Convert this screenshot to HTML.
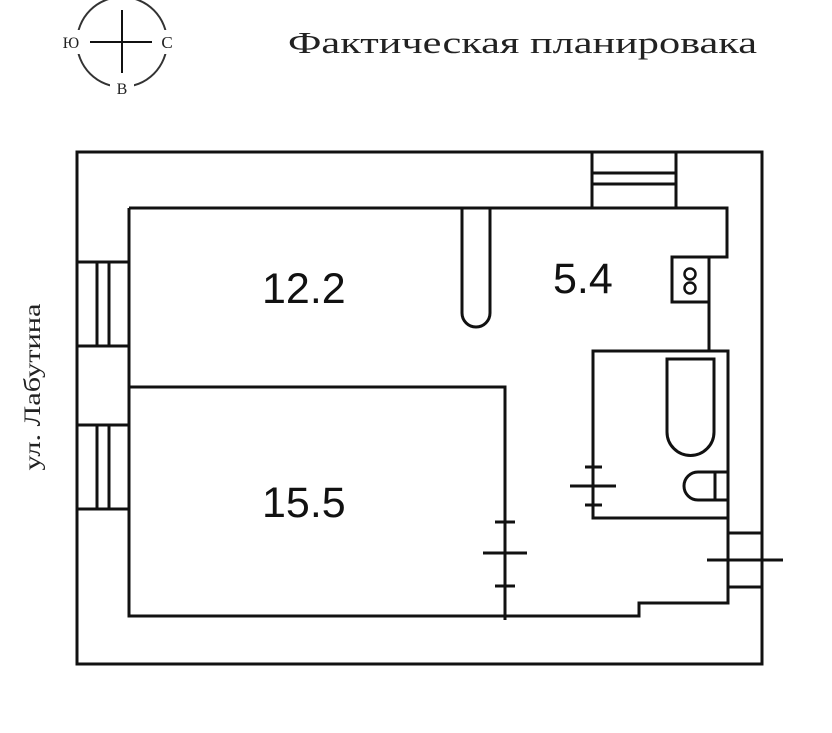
<!DOCTYPE html>
<html><head><meta charset="utf-8"><style>
html,body{margin:0;padding:0;background:#fff;}
svg{display:block;}
</style></head><body>
<svg width="832" height="733" viewBox="0 0 832 733" xmlns="http://www.w3.org/2000/svg">
<g fill="none" stroke="#111" stroke-width="3">
<circle cx="122" cy="42" r="45" stroke-width="2" stroke="#333"/>
<line x1="90" y1="42" x2="152" y2="42" stroke-width="2"/>
<line x1="122" y1="10" x2="122" y2="73" stroke-width="2"/>
</g>
<rect x="60" y="30" width="22" height="24" fill="#fff"/>
<rect x="156" y="30" width="22" height="24" fill="#fff"/>
<rect x="110" y="77" width="24" height="22" fill="#fff"/>
<g font-family="'Liberation Serif','DejaVu Serif',serif" fill="#222">
<text x="71" y="48" font-size="16" text-anchor="middle">Ю</text>
<text x="167" y="48" font-size="17" text-anchor="middle">С</text>
<text x="122" y="94" font-size="16" text-anchor="middle">В</text>
<text x="288" y="53" font-size="31" textLength="469" lengthAdjust="spacingAndGlyphs">Фактическая планировака</text>
<text transform="translate(40,387) rotate(-90)" font-size="23" text-anchor="middle" textLength="167" lengthAdjust="spacingAndGlyphs">ул. Лабутина</text>
</g>
<g fill="none" stroke="#111" stroke-width="3">
<rect x="77" y="152" width="685" height="512"/>
<polyline points="129,208 727,208 727,257 672,257"/>
<rect x="672" y="257" width="37" height="45"/>
<line x1="709" y1="302" x2="709" y2="351"/>
<polyline points="728,518 728,603 639,603 639,616 129,616 129,208"/>
<line x1="77" y1="262" x2="129" y2="262"/><line x1="77" y1="346" x2="129" y2="346"/>
<line x1="97" y1="262" x2="97" y2="346"/><line x1="109" y1="262" x2="109" y2="346"/>
<line x1="77" y1="425" x2="129" y2="425"/><line x1="77" y1="509" x2="129" y2="509"/>
<line x1="97" y1="425" x2="97" y2="509"/><line x1="109" y1="425" x2="109" y2="509"/>
<line x1="592" y1="152" x2="592" y2="208"/><line x1="676" y1="152" x2="676" y2="208"/>
<line x1="592" y1="173" x2="676" y2="173"/><line x1="592" y1="184" x2="676" y2="184"/>
<circle cx="690" cy="274" r="5.5" stroke-width="2.5"/>
<circle cx="690" cy="288" r="5.5" stroke-width="2.5"/>
<path d="M462,208 V313 A14,14 0 0 0 490,313 V208"/>
<polyline points="129,387 505,387 505,620"/>
<line x1="495" y1="522" x2="515" y2="522"/>
<line x1="495" y1="586" x2="515" y2="586"/>
<line x1="483" y1="553" x2="527" y2="553"/>
<rect x="593" y="351" width="135" height="167"/>
<line x1="585" y1="467" x2="602" y2="467"/>
<line x1="585" y1="505" x2="602" y2="505"/>
<line x1="570" y1="486" x2="616" y2="486"/>
<path d="M667,359 H714 V432 A23.5,23.5 0 0 1 667,432 Z"/>
<path d="M728,472 H698 A14,14 0 0 0 698,500 H728"/>
<line x1="715" y1="472" x2="715" y2="500"/>
<line x1="728" y1="533" x2="762" y2="533"/>
<line x1="728" y1="587" x2="762" y2="587"/>
<line x1="707" y1="560" x2="783" y2="560"/>
</g>
<g font-family="'Liberation Sans','DejaVu Sans',sans-serif" fill="#111" font-size="43">
<text x="262" y="303">12.2</text>
<text x="553" y="293">5.4</text>
<text x="262" y="517">15.5</text>
</g>
</svg>
</body></html>
